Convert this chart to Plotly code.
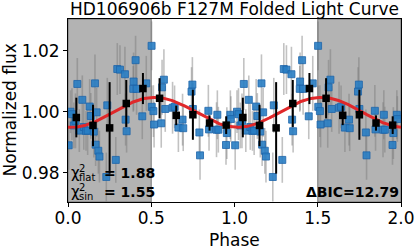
import plotly.graph_objects as go
import math

# ---- data ----
phase = [0.004,0.015,0.024,0.035,0.045,0.056,0.068,0.086,0.095,0.108,0.118,0.130,0.137,0.155,0.162,0.166,0.172,0.182,0.189,0.230,
         0.236,0.287,0.296,0.312,0.342,0.346,0.352,0.392,0.394,0.406,0.412,0.446,0.470,0.502,0.503,0.513,0.517,0.560,0.565,0.576,
         0.584,0.628,0.640,0.663,0.688,0.692,0.742,0.747,0.750,0.789,0.793,0.843,0.847,0.892,0.897,0.903,0.949,0.954,0.975,0.978]
flux = [0.9890,1.0000,0.9992,0.9955,0.9970,1.0091,0.9938,1.0039,0.9950,0.9937,0.9938,1.0017,0.9986,0.9935,1.0093,0.9892,0.9998,0.9872,0.9853,0.9786,
        1.0021,0.9842,1.0140,1.0138,1.0123,0.9974,0.9936,1.0075,1.0099,1.0169,1.0075,0.9985,1.0093,1.0216,1.0016,1.0002,0.9958,0.9962,1.0080,1.0105,
        1.0009,1.0013,1.0016,0.9948,0.9974,0.9946,1.0066,1.0089,1.0009,0.9932,0.9857,1.0003,0.9942,0.9941,0.9990,0.9941,0.9891,0.9930,0.9990,0.9976]
flux_err = [0.0080,0.0070,0.0085,0.0075,0.0090,0.0085,0.0070,0.0080,0.0075,0.0065,0.0080,0.0090,0.0075,0.0085,0.0095,0.0070,0.0080,0.0075,0.0085,0.0080,
            0.0090,0.0075,0.0085,0.0080,0.0090,0.0085,0.0070,0.0075,0.0095,0.0080,0.0085,0.0075,0.0090,0.0080,0.0070,0.0085,0.0075,0.0080,0.0090,0.0100,
            0.0075,0.0085,0.0070,0.0080,0.0085,0.0075,0.0080,0.0090,0.0085,0.0075,0.0080,0.0085,0.0070,0.0090,0.0080,0.0075,0.0065,0.0085,0.0080,0.0075]

bin_phase = [0.05,0.15,0.25,0.35,0.45,0.55,0.65,0.75,0.85,0.95]
bin_flux = [0.9981,0.9955,0.9947,1.0027,1.0076,1.0044,0.9988,0.9990,0.9963,0.9956]
bin_err = [0.0065,0.0068,0.0150,0.0077,0.0051,0.0066,0.0032,0.0082,0.0025,0.0029]

# sinusoid fit parameters
sin_offset = 0.9998
sin_amp = 0.0049
sin_phase0 = 0.02

chi2_flat = 1.88
chi2_sin = 1.55
delta_bic = 12.79

title = "HD106906b F127M Folded Light Curve"
x_ticks = [0.0, 0.5, 1.0, 1.5, 2.0]
y_ticks = [0.98, 1.00, 1.02]

# ---- figure ----
W, H = 415, 249
L, R, T, B = 68, 14, 19, 47
pw, ph = W - L - R, H - T - B

def px(x):  # pixel -> paper x
    return (x - L) / pw
def py(y):  # pixel -> paper y
    return (H - B - y) / ph

x2 = phase + [p + 1 for p in phase]
y2 = flux + flux
e2 = flux_err + flux_err
bx = bin_phase + [p + 1 for p in bin_phase]
by = bin_flux + bin_flux
be = bin_err + bin_err

n = 400
mx = [2.0 * i / (n - 1) for i in range(n)]
my = [sin_offset - sin_amp * math.cos(2 * math.pi * (x - sin_phase0)) for x in mx]

fig = go.Figure()
fig.add_trace(go.Scatter(
    x=x2, y=y2, mode="markers",
    error_y=dict(type="data", array=e2, color="rgba(120,120,120,0.45)", thickness=1.6, width=0),
    marker=dict(symbol="square", size=7, color="rgba(40,125,195,0.9)", line=dict(color="rgba(30,100,170,1)", width=0.8)),
    showlegend=False))
fig.add_trace(go.Scatter(x=mx, y=my, mode="lines", line=dict(color="#e0282a", width=3), showlegend=False))
fig.add_trace(go.Scatter(
    x=bx, y=by, mode="markers",
    error_y=dict(type="data", array=be, color="black", thickness=2, width=0),
    marker=dict(symbol="square", size=7.5, color="black"),
    showlegend=False))

for x0, x1 in [(0.0, 0.5), (1.5, 2.0)]:
    fig.add_shape(type="rect", xref="x", yref="paper", x0=x0, x1=x1, y0=0, y1=1,
                  fillcolor="rgba(128,128,128,0.6)", line=dict(color="rgba(100,100,100,0.8)", width=1), layer="below")

font = "DejaVu Sans"
ann = []
# chi^2 labels
for yc, sub, val in [(173, "flat", chi2_flat), (192, "sin", chi2_sin)]:
    ann.append(dict(text="χ", x=px(69), y=py(yc), xanchor="left", yanchor="middle", font=dict(size=15)))
    ann.append(dict(text="2", x=px(77), y=py(yc - 5), xanchor="left", yanchor="middle", font=dict(size=10)))
    ann.append(dict(text=sub, x=px(77), y=py(yc + 4), xanchor="left", yanchor="middle", font=dict(size=10)))
    ann.append(dict(text="<b>= %.2f</b>" % val, x=px(102), y=py(yc), xanchor="left", yanchor="middle", font=dict(size=14)))
ann.append(dict(text="<b>ΔBIC=%.2f</b>" % delta_bic, x=px(401), y=py(192), xanchor="right", yanchor="middle", font=dict(size=14)))
ann.append(dict(text="Phase", x=px(234), y=py(240), xanchor="center", yanchor="middle", font=dict(size=17)))
ann.append(dict(text="Normalized flux", x=px(9), y=0.5, xanchor="center", yanchor="middle", textangle=-90, font=dict(size=17)))
ann.append(dict(text=title, x=0.5, y=py(9), xanchor="center", yanchor="middle", font=dict(size=17)))
for a in ann:
    a.update(xref="paper", yref="paper", showarrow=False)
    a["font"].update(family=font, color="black")

fig.update_layout(
    width=W, height=H, margin=dict(l=L, r=R, t=T, b=B, pad=0, autoexpand=False),
    paper_bgcolor="white", plot_bgcolor="white",
    font=dict(family=font, size=17, color="black"),
    annotations=ann,
    xaxis=dict(range=[0, 2], tickvals=x_ticks, ticktext=["%.1f" % v for v in x_ticks], automargin=False,
               showgrid=False, zeroline=False, showline=True, mirror=True, linecolor="black", linewidth=1,
               ticks="outside", ticklen=4, tickcolor="black", tickfont=dict(size=17), ticklabelstandoff=-3),
    yaxis=dict(range=[0.9704, 1.0304], tickvals=y_ticks, ticktext=["%.2f" % v for v in y_ticks], automargin=False,
               showgrid=False, zeroline=False, showline=True, mirror=True, linecolor="black", linewidth=1,
               ticks="outside", ticklen=4, tickcolor="black", tickfont=dict(size=17)),
)

fig.write_html("out.html", config={"displayModeBar": False},
               post_script="document.body.style.margin='0';document.body.style.overflow='hidden';")
